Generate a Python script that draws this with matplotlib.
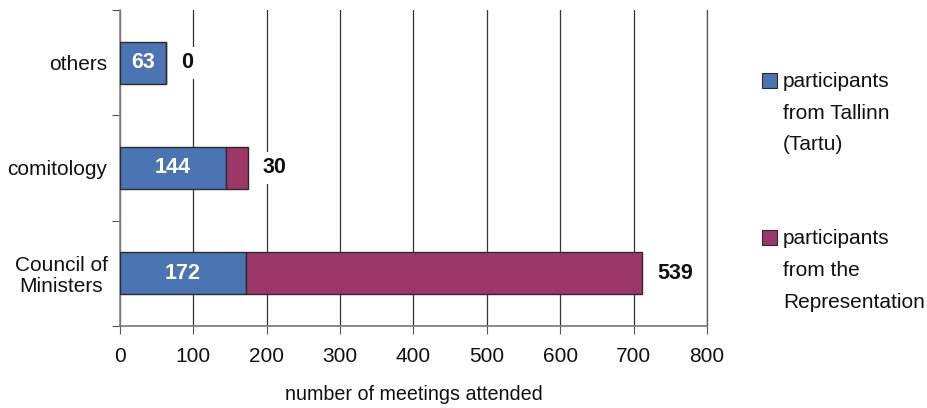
import matplotlib
matplotlib.use("Agg")
import matplotlib.pyplot as plt
from matplotlib.patches import Rectangle
from matplotlib.ticker import FixedLocator

categories = ["Council of\nMinisters", "comitology", "others"]
tallinn = [172, 144, 63]
representation = [539, 30, 0]
series_names = ["participants\nfrom Tallinn\n(Tartu)", "participants\nfrom the\nRepresentation"]
x_ticks = [0, 100, 200, 300, 400, 500, 600, 700, 800]
x_label = "number of meetings attended"

blue = "#4a74b2"
red = "#9d3767"
edge = "#2b2b2b"

plt.rcParams["font.family"] = ["Liberation Sans", "DejaVu Sans"]

fig = plt.figure(figsize=(9.28, 4.08), dpi=100)
ax = fig.add_axes([120 / 928, 82 / 408, 587 / 928, 316 / 408])

ypos = list(range(len(categories)))
ax.barh(ypos, tallinn, height=0.4, color=blue, edgecolor=edge, linewidth=1, zorder=3)
ax.barh(ypos, representation, left=tallinn, height=0.4, color=red,
        edgecolor=edge, linewidth=1, zorder=3)

for y, a, b in zip(ypos, tallinn, representation):
    ax.text(a / 2, y, str(a), ha="center", va="center", color="white",
            fontsize=15.5, fontweight="bold", zorder=4)
    ax.annotate(str(b), xy=(a + b, y), xytext=(11, 0), textcoords="offset points",
                ha="left", va="center", fontsize=15.5, fontweight="bold", color="#111111",
                bbox=dict(boxstyle="square,pad=0.25", fc="white", ec="none"), zorder=4)

ax.set_xlim(0, 800)
ax.set_ylim(-0.5, 2.5)
ax.set_xticks(x_ticks)
ax.set_xticklabels([str(t) for t in x_ticks])
ax.set_yticks(ypos)
ax.set_yticklabels(categories, ha="right", multialignment="center", linespacing=1.1)
ax.yaxis.set_minor_locator(FixedLocator([-0.5, 0.5, 1.5, 2.5]))
ax.tick_params(axis="y", which="major", length=0, pad=9, labelsize=15, colors="#111111")
ax.tick_params(axis="y", which="minor", length=6, width=0.8, color="#555555")
ax.tick_params(axis="x", length=6, width=0.8, color="#555555", pad=9,
               labelsize=15, labelcolor="#111111")
ax.set_xlabel(x_label, fontsize=14.2, color="#111111", labelpad=14)

ax.grid(axis="x", color="#333333", linewidth=0.9, zorder=0)
ax.set_axisbelow(True)
ax.spines["top"].set_visible(False)
ax.spines["right"].set_color("#555555")
ax.spines["right"].set_linewidth(0.9)
ax.spines["left"].set_color("#888888")
ax.spines["bottom"].set_color("#777777")
ax.spines["left"].set_linewidth(1.2)
ax.spines["bottom"].set_linewidth(1.2)

# legend drawn as swatches with multi-line labels
legend_items = [(blue, series_names[0], 80), (red, series_names[1], 237)]
for color, label, ymid in legend_items:
    fig.patches.append(Rectangle((762 / 928, 1 - (ymid + 8) / 408), 15 / 928, 15 / 408,
                                 transform=fig.transFigure, facecolor=color,
                                 edgecolor=edge, linewidth=0.8))
    fig.text(783 / 928, 1 - (ymid - 8) / 408, label, ha="left", va="top",
             fontsize=15, color="#111111", linespacing=1.85)

fig.savefig("out.png", dpi=100)
